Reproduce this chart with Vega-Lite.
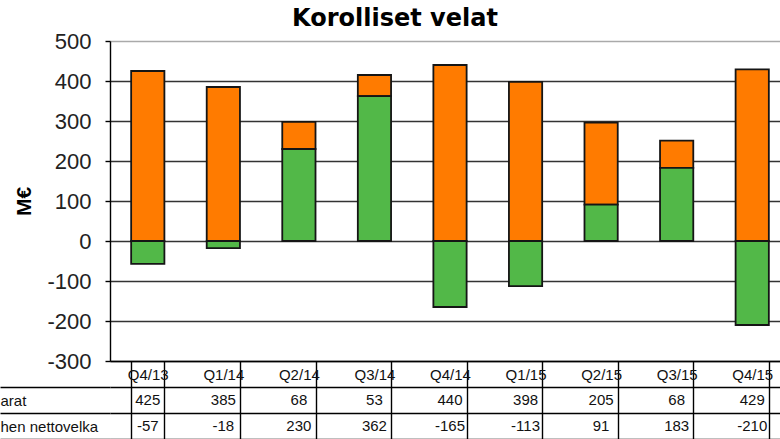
{
  "$schema": "https://vega.github.io/schema/vega-lite/v6.json",
  "autosize": {"type": "none"},
  "width": 680,
  "height": 320,
  "padding": {"left": 110, "top": 41, "right": -10, "bottom": 78},
  "background": "white",
  "title": {
    "text": "Korolliset velat",
    "anchor": "start",
    "frame": "group",
    "dx": 182,
    "font": "DejaVu Sans",
    "fontSize": 24,
    "fontWeight": "bold",
    "color": "#000",
    "offset": -1
  },
  "config": {
    "view": {"stroke": null},
    "font": "Liberation Sans",
    "locale": {
      "number": {"decimal": ".", "thousands": " ", "grouping": [3], "currency": ["", " €"], "minus": "-"}
    }
  },
  "data": {
    "values": [
      {"quarter": "Q4/13", "series": "arat", "value": 425, "order": 2},
      {"quarter": "Q1/14", "series": "arat", "value": 385, "order": 2},
      {"quarter": "Q2/14", "series": "arat", "value": 68, "order": 2},
      {"quarter": "Q3/14", "series": "arat", "value": 53, "order": 2},
      {"quarter": "Q4/14", "series": "arat", "value": 440, "order": 2},
      {"quarter": "Q1/15", "series": "arat", "value": 398, "order": 2},
      {"quarter": "Q2/15", "series": "arat", "value": 205, "order": 2},
      {"quarter": "Q3/15", "series": "arat", "value": 68, "order": 2},
      {"quarter": "Q4/15", "series": "arat", "value": 429, "order": 2},
      {"quarter": "Q4/13", "series": "hen nettovelka", "value": -57, "order": 1},
      {"quarter": "Q1/14", "series": "hen nettovelka", "value": -18, "order": 1},
      {"quarter": "Q2/14", "series": "hen nettovelka", "value": 230, "order": 1},
      {"quarter": "Q3/14", "series": "hen nettovelka", "value": 362, "order": 1},
      {"quarter": "Q4/14", "series": "hen nettovelka", "value": -165, "order": 1},
      {"quarter": "Q1/15", "series": "hen nettovelka", "value": -113, "order": 1},
      {"quarter": "Q2/15", "series": "hen nettovelka", "value": 91, "order": 1},
      {"quarter": "Q3/15", "series": "hen nettovelka", "value": 183, "order": 1},
      {"quarter": "Q4/15", "series": "hen nettovelka", "value": -210, "order": 1}
    ]
  },
  "encoding": {
    "x": {
      "field": "quarter",
      "type": "nominal",
      "sort": null,
      "scale": {"paddingInner": 0.56, "paddingOuter": 0.28},
      "axis": {
        "title": null,
        "orient": "bottom",
        "labelAngle": 0,
        "tickBand": "extent",
        "ticks": true,
        "tickSize": 78,
        "tickColor": "#000",
        "tickWidth": 1.4,
        "domain": true,
        "domainColor": "#000",
        "domainWidth": 1.4,
        "labelPadding": -65,
        "labelBaseline": "middle",
        "labelFont": "Liberation Sans",
        "labelFontSize": 15,
        "labelColor": "#111"
      }
    }
  },
  "layer": [
    {
      "mark": {"type": "bar", "stroke": "#151515", "strokeWidth": 1.8},
      "encoding": {
        "y": {
          "field": "value",
          "type": "quantitative",
          "stack": "zero",
          "scale": {"domain": [-300, 500], "nice": false, "zero": true},
          "axis": {
            "title": "M€",
            "titleFont": "Liberation Sans",
            "titleFontSize": 21,
            "titleFontWeight": "bold",
            "titleColor": "#000",
            "titlePadding": 12,
            "values": [-300, -200, -100, 0, 100, 200, 300, 400, 500],
            "labelFont": "Liberation Sans",
            "labelFontSize": 22,
            "labelColor": "#222",
            "labelPadding": 14,
            "tickSize": 5,
            "tickColor": "#000",
            "tickWidth": 1.4,
            "domainColor": "#000",
            "domainWidth": 1.4,
            "grid": true,
            "gridColor": {"condition": {"test": "datum.value === 500", "value": "#aaaaaa"}, "value": "#333333"},
            "gridWidth": 1.6,
            "gridOpacity": 1
          }
        },
        "color": {
          "field": "series",
          "type": "nominal",
          "scale": {"domain": ["arat", "hen nettovelka"], "range": ["#FF7B00", "#52B848"]},
          "legend": null
        },
        "order": {"field": "order", "type": "quantitative"}
      }
    },
    {
      "mark": {"type": "text", "font": "Liberation Sans", "fontSize": 15, "color": "#111", "baseline": "middle"},
      "encoding": {
        "y": {
          "field": "series",
          "type": "nominal",
          "scale": {"domain": ["arat", "hen nettovelka"], "range": [346, 398], "paddingInner": 0, "paddingOuter": 0},
          "axis": {
            "orient": "left",
            "title": null,
            "domain": false,
            "tickBand": "extent",
            "ticks": true,
            "tickSize": 110,
            "tickColor": "#000",
            "tickWidth": 1.4,
            "grid": true,
            "gridColor": "#000",
            "gridWidth": 1.4,
            "gridOpacity": 1,
            "labelAlign": "left",
            "labelBaseline": "middle",
            "labelPadding": 0,
            "labelFont": "Liberation Sans",
            "labelFontSize": 15,
            "labelColor": "#111"
          }
        },
        "text": {"field": "value", "type": "quantitative", "format": "d"}
      }
    }
  ],
  "resolve": {"scale": {"y": "independent"}, "axis": {"y": "independent"}}
}
